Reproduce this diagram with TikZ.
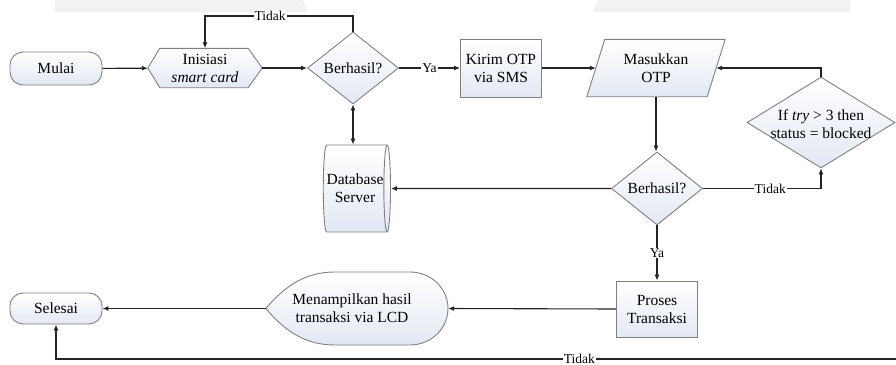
\documentclass[tikz,border=0pt]{standalone}
\usepackage{fontspec}
\setmainfont{Liberation Serif}
\usetikzlibrary{arrows.meta,shapes.geometric,backgrounds}
\definecolor{bd}{RGB}{128,128,128}
\definecolor{ln}{RGB}{35,35,35}
\definecolor{fb}{RGB}{226,232,243}
\definecolor{wm}{RGB}{242,242,242}
\begin{document}
\begin{tikzpicture}[x=1pt,y=-1pt,
  every node/.style={font=\rmfamily\fontsize{15.5}{18}\selectfont, align=center, text=black},
  shp/.style={draw=bd, line width=0.9pt, top color=white, bottom color=fb},
  term/.style={shp, rounded corners=13pt, minimum width=92pt, minimum height=33pt, inner sep=0pt},
  box/.style={shp, minimum width=81pt, minimum height=57pt, inner sep=0pt},
  dia/.style={shp, diamond, inner sep=0pt},
  ghost/.style={inner sep=0pt},
  conn/.style={draw=ln, line width=1.1pt, -{Latex[length=6pt,width=5pt]}},
  lbl/.style={fill=white, inner sep=1pt, font=\rmfamily\fontsize{13.5}{15}\selectfont},
]
\useasboundingbox (0,0) rectangle (896,364);
% faint watermark strips at the top
\fill[wm] (55,0) -- (302,0) -- (308,12) -- (55,12) -- cycle;
\fill[wm] (598,0) -- (850,0) -- (850,12) -- (593,12) -- cycle;

% row 1
\node[term] (mulai) at (56,68.5) {Mulai};
\node[ghost, minimum width=114pt, minimum height=39pt] (ini) at (205,68) {Inisiasi\\\textit{smart card}};
\node[dia, minimum width=91pt, minimum height=72pt] (ber1) at (353,68) {Berhasil?};
\node[box, minimum height=58pt] (kirim) at (501,68) {Kirim OTP\\via SMS};
\node[ghost, minimum width=120pt, minimum height=57pt] (mas) at (656,68) {Masukkan\\OTP};
\node[dia, minimum width=148pt, minimum height=91pt] (ifd) at (821,122.5) {};
\node[ghost] (ifdt) at (821,124) {If \textit{try} > 3 then\\status = blocked};

% row 2
\node[shp, cylinder, shape aspect=0.23, minimum width=87pt, minimum height=57pt, inner sep=0pt] (db) at (355,188.5) {Database\\Server};
\node[dia, minimum width=91pt, minimum height=73pt] (ber2) at (657,188.5) {Berhasil?};

% row 3
\node[term, minimum height=31pt] (selesai) at (56,308.5) {Selesai};
\node[ghost, minimum width=182pt, minimum height=73pt] (disp) at (357,308.5) {};
\node[ghost] (dispt) at (352,308.5) {Menampilkan hasil\\transaksi via LCD};
\node[box, minimum height=56pt] (proses) at (657,309) {Proses\\Transaksi};

\coordinate (bend) at (896,359);

\begin{pgfonlayer}{background}
  \draw[shp] (ini.west) -- ([xshift=12pt]ini.north west) -- ([xshift=-14pt]ini.north east)
    -- (ini.east) -- ([xshift=-14pt]ini.south east) -- ([xshift=12pt]ini.south west) -- cycle;
  \draw[shp] ([xshift=-9pt]mas.south west) -- ([xshift=9pt]mas.north west)
    -- ([xshift=9pt]mas.north east) -- ([xshift=-9pt]mas.south east) -- cycle;
  \draw[shp] (disp.west) .. controls (285,286) and (305,272) .. (335,272) -- (410,272)
    arc[start angle=90, end angle=-90, x radius=38pt, y radius=36.5pt]
    -- (335,345) .. controls (305,345) and (285,331) .. (disp.west) -- cycle;
\end{pgfonlayer}

% connectors
\draw[conn] (mulai) -- (ini);
\draw[conn] (ini) -- (ber1);
\draw[conn] (ber1.north) -- (353,16) -- node[lbl, pos=0.56] {Tidak} (ini.north |- 0,16) -- (ini.north);
\draw[conn] (ber1.east) -- node[lbl] {Ya} (kirim.west);
\draw[conn] (kirim.east) -- (mas.west);
\draw[conn] (mas.south) -- (mas.south |- ber2.north);
\draw[conn] (ber2.west) -- (db.east);
\draw[conn, {Latex[length=6pt,width=5pt]}-{Latex[length=6pt,width=5pt]}] (ber1.south) -- (ber1.south |- db.north);
\draw[conn] (ber2.east) -- node[lbl, pos=0.57] {Tidak} (ber2.east -| ifd.south) -- (ifd.south);
\draw[conn] (ifd.north) -- (ifd.north |- mas.east) -- (mas.east);
\draw[conn] (ber2.south) -- node[lbl] {Ya} (proses.north);
\draw[conn] (proses.west) -- (disp.east);
\draw[conn] (disp.west) -- (selesai.east);
\draw[conn] (bend) -- node[lbl, pos=0.377] {Tidak} (bend -| selesai.south) -- (selesai.south);
\end{tikzpicture}
\end{document}
